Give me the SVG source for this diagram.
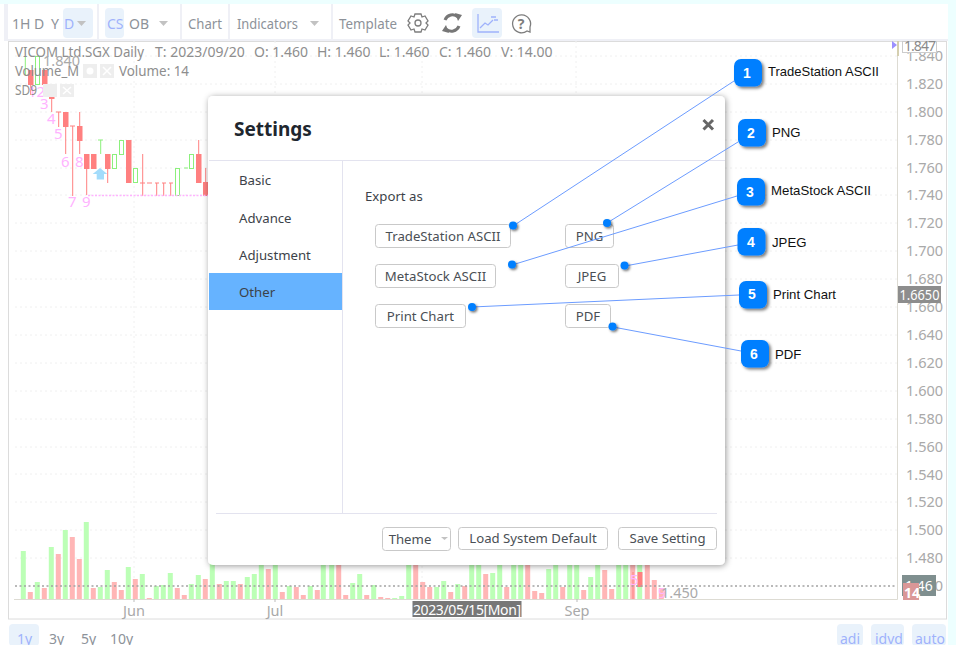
<svg xmlns="http://www.w3.org/2000/svg" width="956" height="645" viewBox="0 0 956 645">
<style>
text{font-family:"Noto Sans","Open Sans",sans-serif;font-size:14px}
.tb{fill:#8d9299}.tba{fill:#9fb2fb}.sep{fill:#eff0f6}.hi{fill:#e9f2fb}.tri{fill:#c2c2c2}
.ax{fill:#a9a9a9;font-size:14.5px}.hd{fill:#8e8e8e}.pk{fill:#ffb3ff;font-size:15px}
.grid{stroke:#f0f0f0;stroke-width:1;stroke-dasharray:2 3;fill:none}
.rw{stroke:#ff8080;stroke-width:1;fill:none}.gw{stroke:#8cf07c;stroke-width:1;fill:none}
.rb{fill:#ff8080}.gb{fill:#fff;stroke:#8cf07c;stroke-width:1}
.vg{stroke:#bcffb6;stroke-width:5;fill:none}.vr{stroke:#ffb6b6;stroke-width:5;fill:none}
.ib{fill:#eeeeee}.ibt{stroke:#fff;stroke-width:1.5}
.dlgt{fill:#333b45}.item{fill:#3c4249;font-size:13.2px}
.btn{fill:#fff;stroke:#c9c9c9;stroke-width:1}.bt{fill:#4a4f55;text-anchor:middle;font-size:13.2px}
.call{fill:#007fff;filter:url(#sh)}.num{fill:#fff;font-family:"Liberation Sans",Arial,sans-serif;font-weight:bold;font-size:14px;text-anchor:middle}
.lab{fill:#111;font-family:"Liberation Sans",Arial,sans-serif;font-size:13.2px}
.con{stroke:#6c9cff;stroke-width:1;fill:none}.dot{fill:#007fff;filter:url(#sh2)}
.icon{fill:none;stroke:#7d7d7d;stroke-width:1.3}
</style>
<defs>
<filter id="sh" x="-30%" y="-30%" width="170%" height="170%"><feDropShadow dx="2" dy="2" stdDeviation="1.5" flood-color="#000" flood-opacity=".5"/></filter>
<filter id="sh2" x="-80%" y="-80%" width="300%" height="300%"><feDropShadow dx="1.5" dy="1.5" stdDeviation="1.2" flood-color="#000" flood-opacity=".55"/></filter>
<filter id="dl" x="-5%" y="-5%" width="110%" height="110%"><feDropShadow dx="1" dy="1" stdDeviation="3" flood-color="#000" flood-opacity=".4"/></filter>
</defs>
<rect width="956" height="645" fill="#edffff"/>
<rect x="0" y="4" width="948" height="641" fill="#fff"/>
<g id="toolbar">
<rect class="sep" x="4" y="4" width="4" height="37"/><rect class="sep" x="97" y="4" width="2" height="36"/><rect class="sep" x="180" y="4" width="2" height="36"/><rect class="sep" x="228" y="4" width="2" height="36"/><rect class="sep" x="331" y="4" width="2" height="36"/>
<rect class="hi" x="63" y="8" width="30" height="30" rx="4"/><rect class="hi" x="105" y="8" width="19" height="30" rx="4"/><rect class="hi" x="472" y="8" width="30" height="30" rx="4"/>
<text class="tb" x="12" y="29">1H</text><text class="tb" x="34" y="29">D</text><text class="tb" x="51" y="29">Y</text><text class="tba" x="64" y="29">D</text>
<path class="tri" d="M77 21h9l-4.500 5z"/>
<text class="tba" x="107" y="29">CS</text><text class="tb" x="129" y="29">OB</text><path class="tri" d="M159 21h9l-4.500 5z"/>
<text class="tb" x="188" y="29" textLength="34" lengthAdjust="spacingAndGlyphs">Chart</text><text class="tb" x="237" y="29" textLength="61" lengthAdjust="spacingAndGlyphs">Indicators</text><path class="tri" d="M310 21h9l-4.500 5z"/><text class="tb" x="339" y="29" textLength="58" lengthAdjust="spacingAndGlyphs">Template</text>
<g class="icon"><circle cx="418" cy="23" r="3"/><path d="M415 14h6l1 3 3-1 3 5-2 2 2 2-3 5-3-1-1 3h-6l-1-3-3 1-3-5 2-2-2-2 3-5 3 1z"/></g>
<g fill="none" stroke="#777" stroke-width="3"><path d="M445 20a8 8 0 0 1 13-3"/><path d="M459 26a8 8 0 0 1-13 3"/></g>
<path d="M455 13l7 2-4 6zM449 33l-7-2 4-6z" fill="#777"/>
<g fill="none" stroke="#9fb2fb" stroke-width="1.300"><path d="M478 14v18h21"/><path d="M480 28l5-5 3 2 5-5"/><path d="M491 17h5M494 20h4"/></g>
<g class="icon"><path d="M527 31a9 9 0 1 1 3-4l0 5z"/></g>
<text x="521" y="29" text-anchor="middle" style="font-size:14px;font-weight:bold;fill:#7d7d7d">?</text>
<rect class="sep" x="8" y="39" width="940" height="2"/>
</g>
<g id="chart">
<rect x="8.500" y="41.500" width="938" height="577.500" fill="#fff" stroke="#dcdcdc"/>
<path class="grid" d="M15 56H897M15 84H897M15 112H897M15 140H897M15 168H897M15 195H897M15 223H897M15 251H897M15 279H897M15 307H897M15 335H897M15 363H897M15 391H897M15 419H897M15 447H897M15 474H897M15 502H897M15 530H897M15 558H897M134 41V599M275 41V599M422 41V599M576 41V599"/>
<g id="volume">
<path class="vg" d="M23.300 551V599M37.300 582V599M51.300 547V599M65.300 530V599M86.300 522V599M100.300 587V599M107.300 570V599M128.300 567V599M142.300 574V599M156.300 586V599M163.300 585V599M170.300 573V599M191.300 584V599M198.300 575V599M212.300 563V599M226.300 581V599M233.300 581V599M247.300 577V599M254.300 574V599M261.300 563V599M275.300 563V599M289.300 586V599M310.300 586V599M323.300 563V599M331.700 563V599M352.700 583V599M359.700 574V599M373.700 585V599M394.700 598V599M401.700 596V599M408.700 563V599M436.700 587V599M443.700 581V599M457.700 584V599M471.700 563V599M478.700 563V599M492.700 573V599M499.700 563V599M513.700 563V599M520.700 563V599M548.700 569V599M555.700 563V599M569.700 563V599M576.700 563V599M590.700 577V599M597.700 563V599M618.700 563V599M625.700 563V599M639.700 563V599"/>
<path class="vr" d="M30.300 592V599M44.300 588V599M58.300 554V599M72.300 537V599M79.300 559V599M93.300 588V599M114.300 582V599M121.300 590V599M135.300 579V599M149.300 598V599M177.300 588V599M184.300 595V599M205.300 579V599M219.300 584V599M240.300 584V599M268.300 569V599M282.300 592V599M296.300 587V599M303.300 595V599M317.300 590V599M338.700 563V599M345.700 595V599M366.700 595V599M380.700 597V599M387.700 598V599M415.700 563V599M422.700 582V599M429.700 587V599M450.700 592V599M464.700 586V599M485.700 574V599M506.700 587V599M527.700 563V599M534.700 591V599M541.700 593V599M562.700 587V599M583.700 590V599M604.700 570V599M611.700 589V599M632.700 563V599M647.300 565V599M654.300 580V599M661.300 588V599"/>
<rect x="637.500" y="572" width="5" height="15" fill="#ff8080"/><rect x="632.500" y="572" width="1" height="27" fill="#ff8080"/>
</g>
<path d="M897.500 41V599.500H14" fill="none" stroke="#dddbd3"/>
<path d="M15 586H897" stroke="#a3a3a3" stroke-width="1.500" stroke-dasharray="2 2.500"/>
<path d="M134 599v3M275 599v3M577 599v3" stroke="#bbb"/>
<g id="candles">
<path class="gw" d="M25.300 56V75"/>
<path class="rw" d="M30.700 85V95M44.700 85V95M51.700 99V112M58.700 112V127M56 112H61M65.700 127V154M72.700 126V196M70 126H75M79.700 112V154M86.700 169V195M107.700 169V183M142.700 154V196M140 183H145M147 183H152M155 183H159M162 183H166M169 183H173M156.700 183V196M163.700 183V196M170.700 183V196M198.700 140V154M205.700 168V182"/>
<path class="gw" d="M100.700 140V154M98 140H103M184 168H188"/>
<rect class="rb" x="28" y="70" width="5.500" height="15"/><rect class="rb" x="42" y="70" width="5.500" height="15"/><rect class="rb" x="49" y="84" width="5.500" height="15"/><rect class="rb" x="63" y="112" width="5.500" height="15"/><rect class="rb" x="77" y="126" width="5.500" height="15"/><rect class="rb" x="84" y="154" width="5.500" height="15"/><rect class="rb" x="91" y="154" width="5.500" height="15"/><rect class="rb" x="105" y="154" width="5.500" height="15"/><rect class="rb" x="126" y="140" width="5.500" height="43"/><rect class="rb" x="196" y="154" width="5.500" height="29"/><rect class="rb" x="203" y="182" width="5.500" height="14"/>
<rect class="gb" x="35.500" y="56.500" width="4" height="28" fill-opacity="0"/><rect class="gb" x="112.500" y="154.500" width="4" height="14"/><rect class="gb" x="119.500" y="140.500" width="4" height="14"/><rect class="gb" x="133.500" y="168.500" width="4" height="14"/><rect class="gb" x="175.500" y="168.500" width="4" height="27"/><rect class="gb" x="189.500" y="154.500" width="4" height="14"/>
<path d="M88 195.500H210" stroke="#ffb3ff" stroke-width="1.500" stroke-dasharray="2 1.500"/>
<polygon points="100,168 92.700,174 96.700,174 96.700,179.500 104,179.500 104,174 107.300,174" fill="#a3dcfb"/>
<text class="pk" x="28" y="97">12</text><text class="pk" x="40" y="109">3</text><text class="pk" x="47" y="124">4</text><text class="pk" x="54" y="139">5</text><text class="pk" x="61" y="167">6</text><text class="pk" x="68" y="207">7</text><text class="pk" x="75" y="167">8</text><text class="pk" x="82" y="207">9</text>
<text class="pk" x="630" y="585">5</text><text class="pk" x="658" y="598">9</text>
</g>
<g id="legend">
<text class="hd" x="15" y="57" textLength="129" lengthAdjust="spacingAndGlyphs">VICOM Ltd.SGX Daily</text><text class="hd" x="155" y="57">T: 2023/09/20</text><text class="hd" x="254" y="57">O: 1.460</text><text class="hd" x="317" y="57">H: 1.460</text><text class="hd" x="379" y="57">L: 1.460</text><text class="hd" x="439" y="57">C: 1.460</text><text class="hd" x="501" y="57">V: 14.00</text>
<text class="ax" x="43" y="66">1.840</text>
<text class="hd" x="15" y="76" textLength="64" lengthAdjust="spacingAndGlyphs">Volume_M</text><rect class="ib" x="83" y="64" width="14" height="14"/><rect class="ib" x="100" y="64" width="14" height="14"/><circle cx="90" cy="71" r="3.500" fill="#fff"/><path class="ibt" d="M103 67l8 8M111 67l-8 8"/><text class="hd" x="119" y="76" textLength="70" lengthAdjust="spacingAndGlyphs">Volume: 14</text>
<text class="hd" x="15" y="95" textLength="22" lengthAdjust="spacingAndGlyphs">SD9</text><rect class="ib" x="43" y="84" width="14" height="13"/><rect class="ib" x="60" y="84" width="14" height="13"/><path class="ibt" d="M63 87l8 7M71 87l-8 7"/>
</g>
<g id="price-axis">
<text class="ax" x="906" y="61">1.840</text><text class="ax" x="906" y="89">1.820</text><text class="ax" x="906" y="117">1.800</text><text class="ax" x="906" y="145">1.780</text><text class="ax" x="906" y="173">1.760</text><text class="ax" x="906" y="200">1.740</text><text class="ax" x="906" y="228">1.720</text><text class="ax" x="906" y="256">1.700</text><text class="ax" x="906" y="284">1.680</text><text class="ax" x="906" y="312">1.660</text><text class="ax" x="906" y="340">1.640</text><text class="ax" x="906" y="368">1.620</text><text class="ax" x="906" y="396">1.600</text><text class="ax" x="906" y="424">1.580</text><text class="ax" x="906" y="452">1.560</text><text class="ax" x="906" y="480">1.540</text><text class="ax" x="906" y="507">1.520</text><text class="ax" x="906" y="535">1.500</text><text class="ax" x="906" y="563">1.480</text>
<rect x="902.500" y="41.500" width="34" height="11" fill="#fff" stroke="#ccc"/><text x="904" y="51" textLength="32" style="font-size:14px;fill:#8a8a8a">1.847</text>
<path d="M892 41l5 4-5 4z" fill="#9c90ff"/><rect x="897" y="41" width="2" height="15" fill="#d5cfb0"/>
<rect x="898" y="286" width="43" height="17" fill="#8d8d8d"/><text x="899.500" y="300" textLength="40" lengthAdjust="spacingAndGlyphs" style="font-size:14px;fill:#fff">1.6650</text>
<text class="ax" x="906" y="591">1.460</text>
<rect x="902" y="575" width="34" height="21" fill="#7f8f8f"/><text x="905" y="591" style="font-size:14px;fill:#fff">1.46</text>
<rect x="903" y="583" width="16" height="17" fill="#da9797"/><text x="904" y="598" style="font-size:14px;font-weight:bold;fill:#fff">14</text>
<text class="ax" x="661" y="598">1.450</text>
</g>
<g id="time-axis">
<text class="ax" x="134" y="616" text-anchor="middle">Jun</text><text class="ax" x="275" y="616" text-anchor="middle">Jul</text><text class="ax" x="577" y="616" text-anchor="middle">Sep</text>
<rect x="412.500" y="601" width="109" height="16" fill="#777"/><text x="413" y="615" textLength="108" style="font-size:14px;fill:#fff">2023/05/15[Mon]</text>
</g>
</g>
<g id="bottom-bar">
<rect class="hi" x="9" y="624" width="30" height="22" rx="4"/><rect class="hi" x="837" y="624" width="26" height="22" rx="4"/><rect class="hi" x="871" y="624" width="33" height="22" rx="4"/><rect class="hi" x="912" y="624" width="34" height="22" rx="4"/>
<text class="tba" x="17" y="644">1y</text><text class="tb" x="49" y="644">3y</text><text class="tb" x="81" y="644">5y</text><text class="tb" x="110" y="644">10y</text>
<text class="tba" x="840" y="644">adi</text><text class="tba" x="875" y="644">idvd</text><text class="tba" x="915" y="644">auto</text>
</g>
<g id="dialog">
<rect x="208" y="96" width="517" height="469" rx="5" fill="#fff" filter="url(#dl)"/>
<text x="234" y="136" style="font-size:19px;font-weight:bold;fill:#20262e">Settings</text>
<path d="M703.500 120l9.500 9.500M713 120l-9.500 9.500" stroke="#666" stroke-width="3"/>
<path d="M209 160.500H725M342.500 160V513M216 513.500H717" stroke="#e3e3ef" fill="none"/>
<rect x="209" y="273" width="133" height="37" fill="#66b3ff"/>
<text class="item" x="239" y="185">Basic</text><text class="item" x="239" y="223">Advance</text><text class="item" x="239" y="260">Adjustment</text><text class="item" x="239" y="297">Other</text>
<text class="item" x="365" y="201">Export as</text>
<g id="btn-theme"><rect class="btn" x="382.500" y="527.500" width="68" height="23" rx="3"/><text class="bt" x="410" y="544">Theme</text><path class="tri" d="M441 537h7l-3.500 3z"/></g>
<g id="btn-default"><rect class="btn" x="458.500" y="527.500" width="149" height="22" rx="3"/><text class="bt" x="533" y="543">Load System Default</text></g>
<g id="btn-save"><rect class="btn" x="618.500" y="527.500" width="98" height="22" rx="3"/><text class="bt" x="667.500" y="543">Save Setting</text></g>
</g>
<g id="export-tradestation"><rect class="btn" x="375.500" y="224.500" width="135" height="23" rx="3"/><text class="bt" x="443" y="241">TradeStation ASCII</text></g>
<g id="export-metastock"><rect class="btn" x="375.500" y="264.500" width="120" height="23" rx="3"/><text class="bt" x="435.500" y="281">MetaStock ASCII</text></g>
<g id="export-print"><rect class="btn" x="375.500" y="304.500" width="90" height="23" rx="3"/><text class="bt" x="420.500" y="321">Print Chart</text></g>
<g id="export-png"><rect class="btn" x="565.500" y="224.500" width="48" height="23" rx="3"/><text class="bt" x="589.500" y="241">PNG</text></g>
<g id="export-jpeg"><rect class="btn" x="565.500" y="264.500" width="53" height="23" rx="3"/><text class="bt" x="592" y="281">JPEG</text></g>
<g id="export-pdf"><rect class="btn" x="565.500" y="304.500" width="45" height="23" rx="3"/><text class="bt" x="588" y="321">PDF</text></g>
<g id="connectors">
<path class="con" d="M513 226L734 81"/><path class="con" d="M607 223L738 142"/><path class="con" d="M512 265L737 196"/><path class="con" d="M625 266L738 245"/><path class="con" d="M472 307L739 295"/><path class="con" d="M613 327L741 351"/>
<circle class="dot" cx="513" cy="225.500" r="4"/><circle class="dot" cx="607" cy="223" r="4"/><circle class="dot" cx="512" cy="264.500" r="4"/><circle class="dot" cx="624.500" cy="265.500" r="4"/><circle class="dot" cx="472" cy="307" r="4"/><circle class="dot" cx="612.500" cy="326.500" r="4"/>
</g>
<g id="callout-1"><rect class="call" x="734" y="59" width="28" height="27.500" rx="7"/><text class="num" x="747" y="78">1</text><text class="lab" x="768" y="76" textLength="111" lengthAdjust="spacingAndGlyphs">TradeStation ASCII</text></g>
<g id="callout-2"><rect class="call" x="738" y="119" width="28" height="27.500" rx="7"/><text class="num" x="751" y="138">2</text><text class="lab" x="772" y="137">PNG</text></g>
<g id="callout-3"><rect class="call" x="737" y="178" width="28" height="27.500" rx="7"/><text class="num" x="750" y="197">3</text><text class="lab" x="771" y="195" textLength="100" lengthAdjust="spacingAndGlyphs">MetaStock ASCII</text></g>
<g id="callout-4"><rect class="call" x="737.500" y="228" width="28" height="27.500" rx="7"/><text class="num" x="751" y="247">4</text><text class="lab" x="772" y="247">JPEG</text></g>
<g id="callout-5"><rect class="call" x="739" y="281" width="28" height="27.500" rx="7"/><text class="num" x="752" y="299">5</text><text class="lab" x="773" y="299">Print Chart</text></g>
<g id="callout-6"><rect class="call" x="741" y="340" width="28" height="27.500" rx="7"/><text class="num" x="754" y="359">6</text><text class="lab" x="775" y="359">PDF</text></g>
</svg>
